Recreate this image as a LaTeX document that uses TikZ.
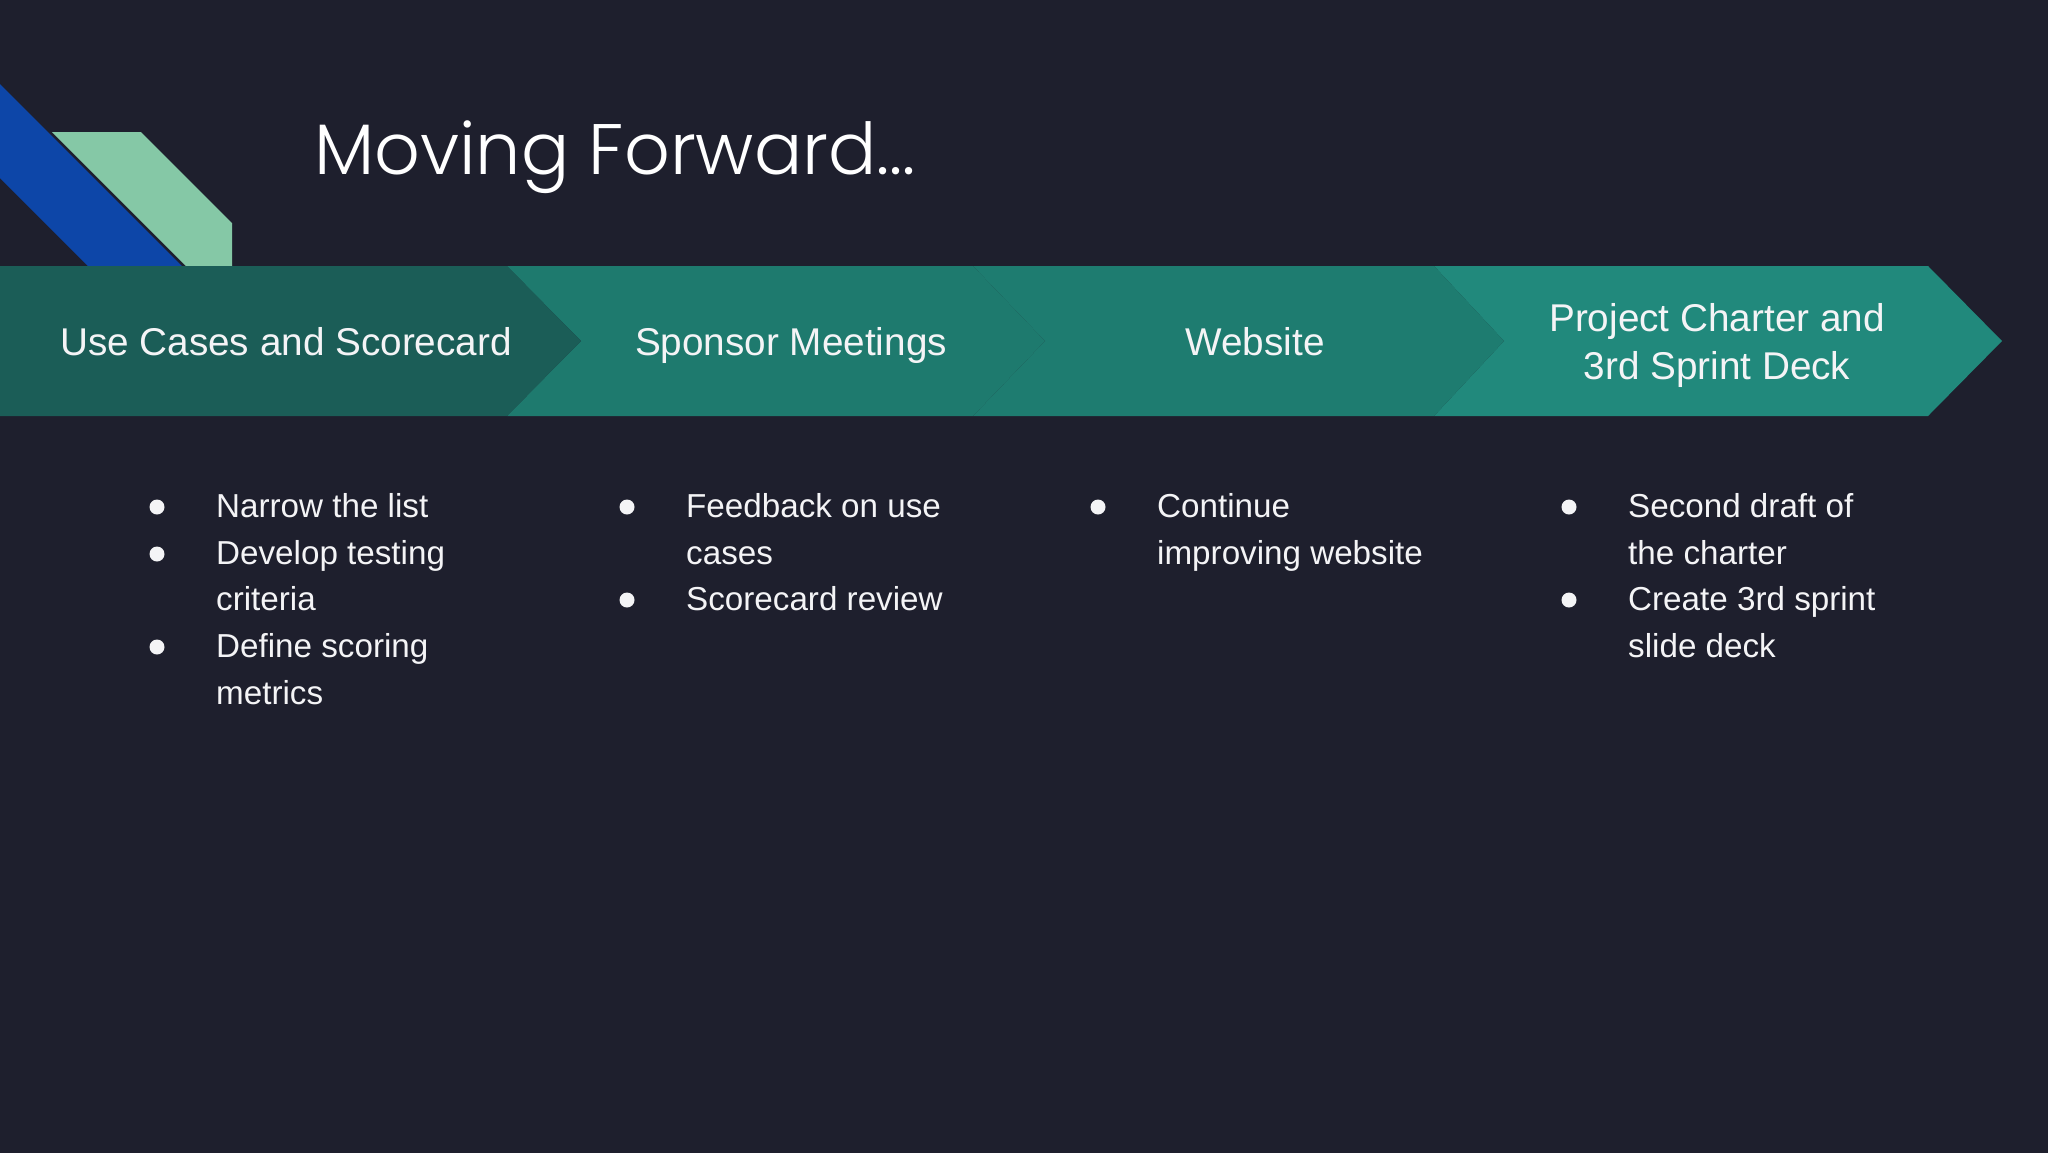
\documentclass[tikz,border=0pt]{standalone}
\usepackage{fontspec}
\setmainfont{Liberation Sans}
\IfFontExistsTF{Poppins Light}{\newfontfamily\titlefont{Poppins Light}}{\newfontfamily\titlefont{Poppins}}
\definecolor{bg}{HTML}{1E1F2D}
\definecolor{chA}{HTML}{1B5D57}
\definecolor{chB}{HTML}{1E7A6E}
\definecolor{chC}{HTML}{1E7C70}
\definecolor{chD}{HTML}{21897C}
\definecolor{stripeblue}{HTML}{0D46A8}
\definecolor{stripemint}{HTML}{85C8A6}
\definecolor{txt}{HTML}{F4F4F6}
\tikzset{
  chevlabel/.style={text=txt, inner sep=0pt, anchor=base, font=\fontsize{38.7}{46}\selectfont},
  itemtext/.style={text=txt, inner sep=0pt, anchor=base west, font=\fontsize{33.2}{40}\selectfont},
  bulletdot/.style={circle, fill=txt, minimum size=15pt, inner sep=0pt},
  titletext/.style={text=white, inner sep=0pt, anchor=base west, font=\titlefont\fontsize{71.5}{80}\selectfont}
}
\begin{document}
\begin{tikzpicture}[x=1pt,y=-1pt]
\useasboundingbox (0,0) rectangle (2048,1152);
\fill[bg] (-6,-6) rectangle (2054,1158);
% corner stripes
\fill[stripeblue] (0,84) -- (182,266) -- (88,266) -- (0,178) -- cycle;
\fill[stripemint] (52,132) -- (141,132) -- (232,223) -- (232,266) -- (186,266) -- cycle;
% title
\node[titletext] (title) at (314,174) {Moving Forward...};
% chevrons
\fill[chD] (1434,266) -- (1928,266) -- (2002,341) -- (1928,416) -- (1434,416) -- (1504,341) -- cycle;
\fill[chC] (973,266) -- (1434,266) -- (1504,341) -- (1434,416) -- (973,416) -- (1045,341) -- cycle;
\fill[chB] (507,266) -- (973,266) -- (1045,341) -- (973,416) -- (507,416) -- (581,341) -- cycle;
\fill[chA] (-6,266) -- (507,266) -- (581,341) -- (507,416) -- (-6,416) -- cycle;
\node[chevlabel] (lab1) at (286,355) {Use Cases and Scorecard};
\node[chevlabel] (lab2) at (791,355) {Sponsor Meetings};
\node[chevlabel] (lab3) at (1255,355) {Website};
\node[chevlabel] (lab4a) at (1717,331) {Project Charter and};
\node[chevlabel] (lab4b) at (1717,379) {3rd Sprint Deck};
% column 1
\node[bulletdot] (b1a) at (157,507) {};
\node[itemtext] (t1a) at (216,517) {Narrow the list};
\node[bulletdot] (b1b) at (157,554) {};
\node[itemtext] (t1b) at (216,564) {Develop testing};
\node[itemtext] (t1c) at (216,610) {criteria};
\node[bulletdot] (b1d) at (157,647) {};
\node[itemtext] (t1d) at (216,657) {Define scoring};
\node[itemtext] (t1e) at (216,704) {metrics};
% column 2
\node[bulletdot] (b2a) at (627,507) {};
\node[itemtext] (t2a) at (686,517) {Feedback on use};
\node[itemtext] (t2b) at (686,564) {cases};
\node[bulletdot] (b2c) at (627,600) {};
\node[itemtext] (t2c) at (686,610) {Scorecard review};
% column 3
\node[bulletdot] (b3a) at (1098,507) {};
\node[itemtext] (t3a) at (1157,517) {Continue};
\node[itemtext] (t3b) at (1157,564) {improving website};
% column 4
\node[bulletdot] (b4a) at (1569,507) {};
\node[itemtext] (t4a) at (1628,517) {Second draft of};
\node[itemtext] (t4b) at (1628,564) {the charter};
\node[bulletdot] (b4c) at (1569,600) {};
\node[itemtext] (t4c) at (1628,610) {Create 3rd sprint};
\node[itemtext] (t4d) at (1628,657) {slide deck};
\end{tikzpicture}
\end{document}
